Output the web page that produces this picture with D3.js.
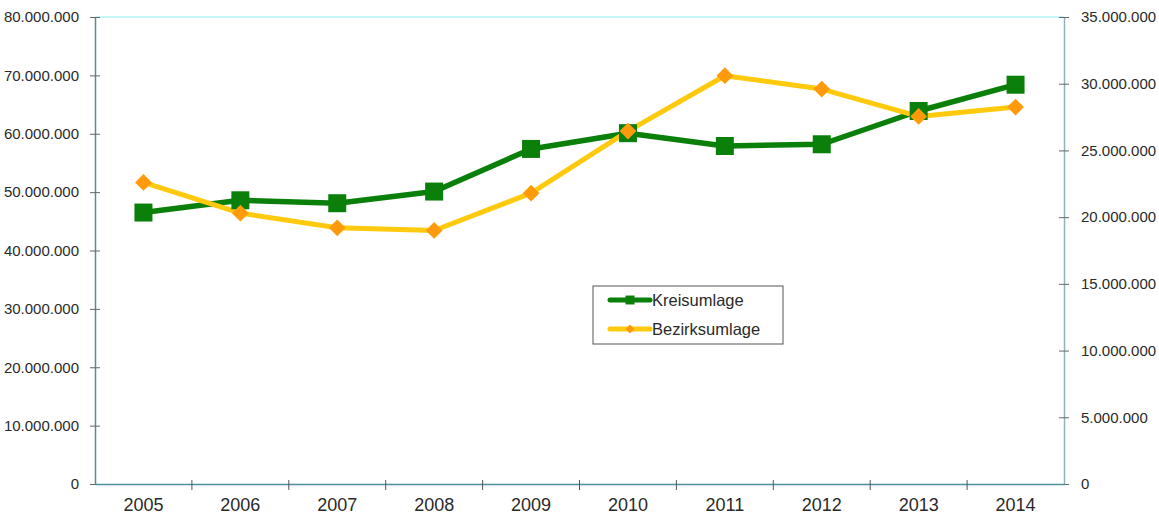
<!DOCTYPE html>
<html>
<head>
<meta charset="utf-8">
<script src="https://cdn.jsdelivr.net/npm/d3@7"></script>
<style>
  body { margin: 0; background: #fff; }
  svg { display: block; font-family: "Liberation Sans", Arial, sans-serif; }
  .tick text { fill: #2a2a2a; font-size: 15px; }
  .legend text { fill: #2a2a2a; font-size: 16.5px; }
</style>
</head>
<body>
<div id="chart"></div>
<script>
// Kreisumlage (linke Achse) und Bezirksumlage (rechte Achse)
const years = ["2005", "2006", "2007", "2008", "2009", "2010", "2011", "2012", "2013", "2014"];
const kreisumlage = [46500000, 48600000, 48100000, 50100000, 57400000, 60100000, 57900000, 58200000, 63900000, 68400000];
const bezirksumlage = [22600000, 20300000, 19200000, 19000000, 21800000, 26450000, 30600000, 29600000, 27550000, 28250000];
const leftTicks = [0, 10000000, 20000000, 30000000, 40000000, 50000000, 60000000, 70000000, 80000000];
const rightTicks = [0, 5000000, 10000000, 15000000, 20000000, 25000000, 30000000, 35000000];

const width = 1159,
    height = 517,
    margin = ({ top: 17, right: 95, bottom: 33, left: 95 });

const svg = d3.select("#chart")
    .append("svg")
    .attr("width", width)
    .attr("height", height)
    .attr("viewBox", [0, 0, width, height]);

const fmt = d => d === 0 ? "0" : d3.format(",")(d).replace(/,/g, ".");

let x = d3.scaleBand()
    .domain(years)
    .range([margin.left, width - margin.right]);

let yLeft = d3.scaleLinear()
    .domain([0, 80000000])
    .range([height - margin.bottom, margin.top]);

let yRight = d3.scaleLinear()
    .domain([0, 35000000])
    .range([height - margin.bottom, margin.top]);

const axisColor = "#4f8f9c";

// top border of plot area
svg.append("line")
    .attr("x1", margin.left).attr("x2", width - margin.right)
    .attr("y1", margin.top).attr("y2", margin.top)
    .attr("stroke", "#b5f0f5").attr("stroke-width", 1.5);

// left axis
const gl = svg.append("g")
    .attr("transform", `translate(${margin.left},0)`)
    .call(d3.axisLeft(yLeft).tickValues(leftTicks).tickFormat(fmt).tickSizeInner(5).tickSizeOuter(0).tickPadding(11));
gl.selectAll(".tick line").attr("x2", 5).attr("x1", -5).attr("stroke", "#666");
gl.select(".domain").attr("stroke", axisColor).attr("stroke-width", 1.5);

// right axis
const gr = svg.append("g")
    .attr("transform", `translate(${width - margin.right},0)`)
    .call(d3.axisRight(yRight).tickValues(rightTicks).tickFormat(fmt).tickSizeInner(5).tickSizeOuter(0).tickPadding(12));
gr.selectAll(".tick line").attr("x1", -5).attr("x2", 5).attr("stroke", "#666");
gr.select(".domain").attr("stroke", "#8fb3bb").attr("stroke-width", 1.5);

// bottom axis with ticks on category boundaries
const gb = svg.append("g")
    .attr("transform", `translate(0,${height - margin.bottom})`)
    .call(d3.axisBottom(x).tickSize(0).tickPadding(14));
gb.select(".domain").attr("stroke", axisColor).attr("stroke-width", 1.5);
gb.selectAll(".tick text").style("font-size", "18px");
gb.selectAll(".sep")
    .data(years.slice(1))
    .join("line")
    .attr("class", "sep")
    .attr("x1", d => x(d)).attr("x2", d => x(d))
    .attr("y1", -4).attr("y2", 6)
    .attr("stroke", "#555");

const cx = d => x(d) + x.bandwidth() / 2;

// Kreisumlage line
svg.append("path")
    .datum(kreisumlage)
    .attr("d", d3.line().x((d, i) => cx(years[i])).y(d => yLeft(d)))
    .attr("fill", "none")
    .attr("stroke", "#0a7f0a")
    .attr("stroke-width", 5.5)
    .attr("stroke-linejoin", "round");

// Bezirksumlage line
svg.append("path")
    .datum(bezirksumlage)
    .attr("d", d3.line().x((d, i) => cx(years[i])).y(d => yRight(d)))
    .attr("fill", "none")
    .attr("stroke", "#ffc90e")
    .attr("stroke-width", 5)
    .attr("stroke-linejoin", "round");

// markers
svg.append("g").selectAll("path")
    .data(kreisumlage)
    .join("path")
    .attr("transform", (d, i) => `translate(${cx(years[i])},${yLeft(d)})`)
    .attr("d", d3.symbol(d3.symbolSquare, 324))
    .attr("fill", "#0a7f0a");

svg.append("g").selectAll("path")
    .data(bezirksumlage)
    .join("path")
    .attr("transform", (d, i) => `translate(${cx(years[i])},${yRight(d)}) rotate(45)`)
    .attr("d", d3.symbol(d3.symbolSquare, 140))
    .attr("fill", "#ff9a0a");

// legend
const lg = svg.append("g").attr("class", "legend").attr("transform", "translate(593,286)");
lg.append("rect")
    .attr("width", 190).attr("height", 58)
    .attr("fill", "#fff").attr("stroke", "#555").attr("stroke-width", 1);

const items = [
    { name: "Kreisumlage", line: "#0a7f0a", mark: "#0a7f0a", sq: true },
    { name: "Bezirksumlage", line: "#ffc90e", mark: "#ff9a0a", sq: false }
];
items.forEach((it, i) => {
    const yy = 14 + i * 29;
    lg.append("line")
        .attr("x1", 17).attr("x2", 57).attr("y1", yy).attr("y2", yy)
        .attr("stroke", it.line).attr("stroke-width", 5).attr("stroke-linecap", "round");
    lg.append("path")
        .attr("transform", `translate(37,${yy})` + (it.sq ? "" : " rotate(45)"))
        .attr("d", d3.symbol(d3.symbolSquare, it.sq ? 80 : 40))
        .attr("fill", it.mark);
    lg.append("text")
        .attr("x", 59).attr("y", yy).attr("dy", "0.35em")
        .text(it.name);
});
</script>
</body>
</html>
